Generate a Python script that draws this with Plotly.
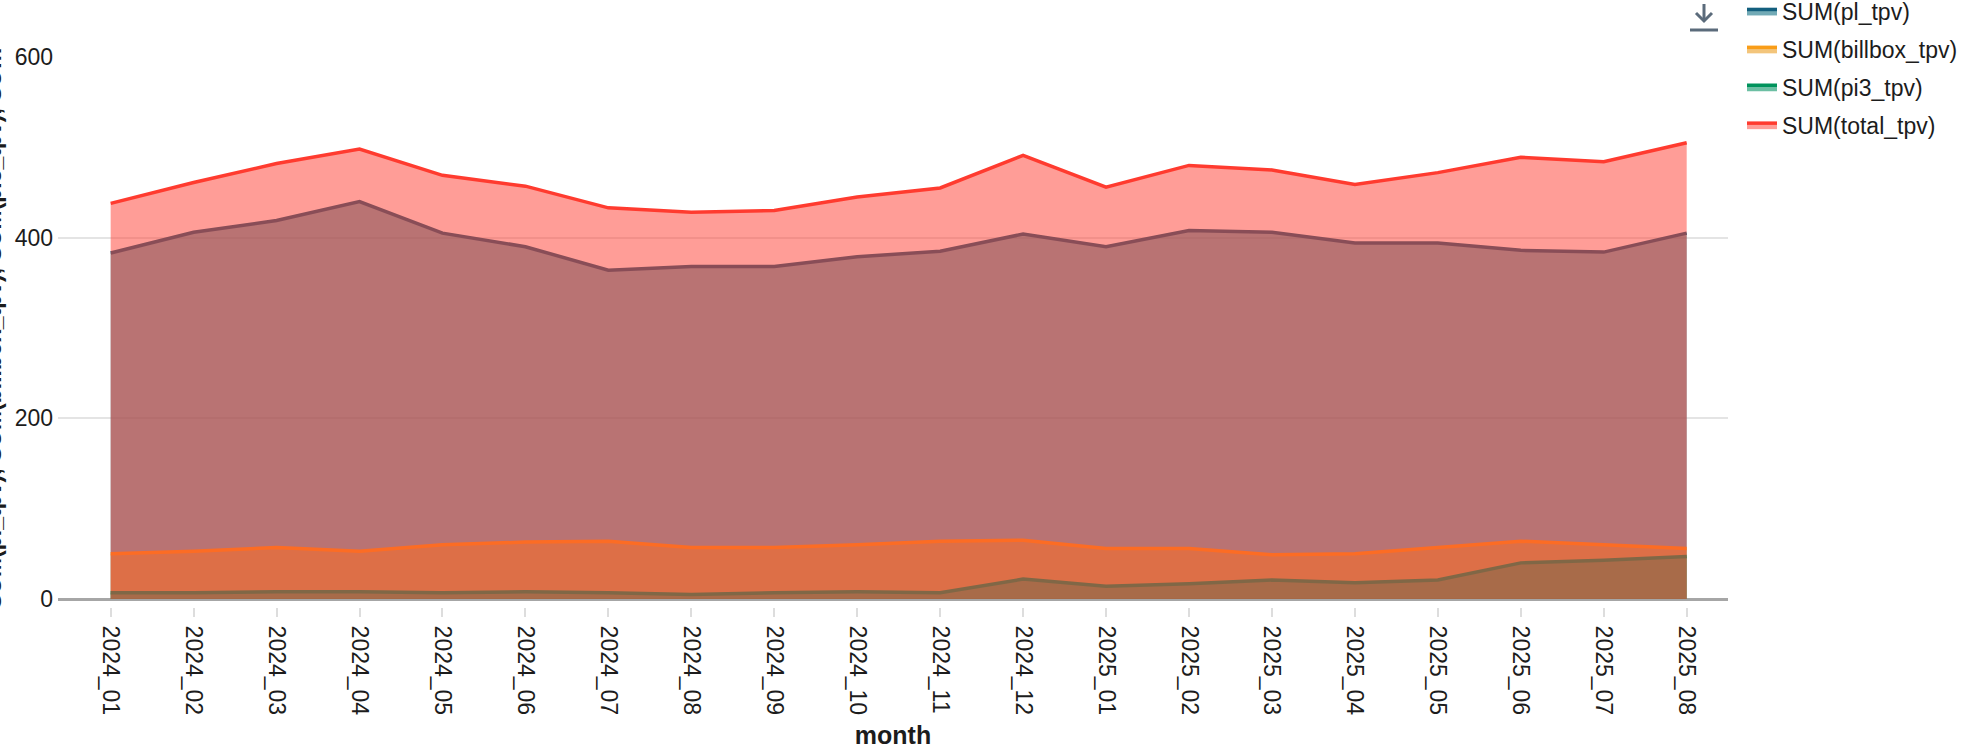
import plotly.graph_objects as go

months = ["2024_01", "2024_02", "2024_03", "2024_04", "2024_05", "2024_06", "2024_07",
          "2024_08", "2024_09", "2024_10", "2024_11", "2024_12", "2025_01", "2025_02",
          "2025_03", "2025_04", "2025_05", "2025_06", "2025_07", "2025_08"]
pl_tpv = [383, 406, 419, 440, 405, 390, 364, 368, 368, 379, 385, 404, 390, 408, 406, 394, 394, 386, 384, 405]
billbox_tpv = [50, 53, 57, 53, 60, 63, 64, 57, 57, 60, 64, 65, 56, 56, 49, 50, 57, 64, 60, 56]
pi3_tpv = [7, 7, 8, 8, 7, 8, 7, 5, 7, 8, 7, 22, 14, 17, 21, 18, 21, 40, 43, 47]
total_tpv = [438, 461, 482, 498, 469, 457, 433, 428, 430, 445, 455, 491, 456, 480, 475, 459, 472, 489, 484, 505]

y_ticks = [0, 200, 400, 600]

FONT = "Liberation Sans, Arial, sans-serif"
TEXT = "#1c1c1c"
ICON = "#5b6b7b"

# plot box in pixels, used for the few extras placed in paper coords
PX_L, PX_R, PX_T, PX_B = 58, 1728, 57, 607


def px(x, y):
    return (x - PX_L) / (PX_R - PX_L), (PX_B - y) / (PX_B - PX_T)


series = [
    ("SUM(pl_tpv)", pl_tpv, "#135f7e", "rgba(31,120,140,0.63)"),
    ("SUM(billbox_tpv)", billbox_tpv, "#f99d18", "rgba(235,158,35,0.6)"),
    ("SUM(pi3_tpv)", pi3_tpv, "#00935c", "rgba(10,148,102,0.6)"),
    ("SUM(total_tpv)", total_tpv, "#ff3b2f", "rgba(255,59,47,0.5)"),
]

fig = go.Figure()
for name, vals, line_col, fill_col in series:
    fig.add_trace(go.Scatter(
        x=months, y=vals, name=name, mode="lines",
        line=dict(color=line_col, width=3.5),
        fill="tozeroy", fillcolor=fill_col,
        legendgroup=name,
    ))

# download icon: arrow + underline
ax0, ay0 = px(1704, 4)
ax1, ay1 = px(1704, 21)
hl, hy = px(1696, 13)
hr, _ = px(1712, 13)
ul0, uy = px(1690, 30)
ul1, _ = px(1718, 30)

fig.update_layout(
    width=1974, height=754,
    margin=dict(l=PX_L, r=1974 - PX_R, t=PX_T, b=754 - PX_B, autoexpand=False),
    plot_bgcolor="white", paper_bgcolor="white",
    font=dict(family=FONT, size=23, color=TEXT),
    showlegend=True,
    legend=dict(
        x=px(1742, 0)[0], y=px(0, -10)[1], xanchor="left", yanchor="top",
        font=dict(size=23, color=TEXT),
        tracegroupgap=5, bgcolor="rgba(0,0,0,0)",
    ),
    xaxis=dict(
        type="category", range=[-0.635, 19.498],
        tickangle=90, ticks="outside", ticklen=9, tickwidth=2, tickcolor="#dddddd",
        showgrid=False, showline=False, zeroline=False,
        ticklabelstandoff=4,
        tickfont=dict(size=23, color=TEXT),
        title=dict(text="<b>month</b>", font=dict(size=25, color=TEXT), standoff=12),
    ),
    yaxis=dict(
        range=[-8.85, 600], tickvals=y_ticks,
        showgrid=True, gridcolor="#e4e4e4", gridwidth=1.5,
        zeroline=True, zerolinecolor="#a6a6a6", zerolinewidth=2.5,
        showline=False, ticks="", ticklabelstandoff=4,
        tickfont=dict(size=23, color=TEXT),
        layer="above traces",
    ),
    annotations=[
        dict(
            text="<b>SUM(pl_tpv), SUM(billbox_tpv), SUM(pi3_tpv), SU…</b>",
            xref="paper", yref="paper", x=px(-7, 0)[0], y=px(0, 328)[1],
            xanchor="center", yanchor="middle", textangle=-90,
            showarrow=False, font=dict(size=23, color=TEXT),
        ),
    ],
    shapes=[
        dict(type="line", xref="paper", yref="paper",
             x0=ax0, x1=ax1, y0=ay0, y1=ay1, line=dict(color=ICON, width=3)),
        dict(type="path", xref="paper", yref="paper",
             path=f"M {hl},{hy} L {ax1},{ay1} L {hr},{hy}",
             line=dict(color=ICON, width=3)),
        dict(type="line", xref="paper", yref="paper",
             x0=ul0, x1=ul1, y0=uy, y1=uy, line=dict(color=ICON, width=3)),
    ],
)

fig.write_html(
    "out.html",
    config={"displayModeBar": False},
    post_script="document.body.style.margin='0';document.body.style.overflow='hidden';",
)
